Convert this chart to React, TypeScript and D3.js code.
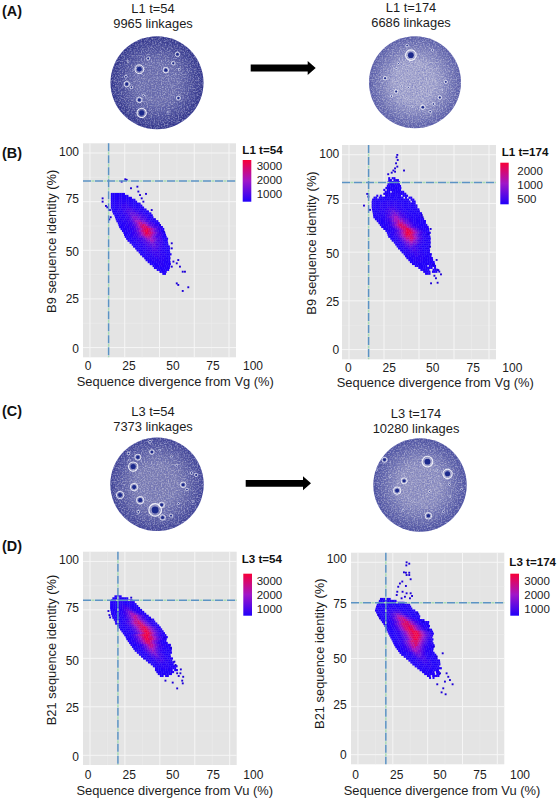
import * as d3 from 'd3';

type Row = [number, number, string];
type Plaque = [number, number, number];

// identity %, first divergence % of the row, one digit per bin (index into levelCounts, "." = empty bin)
const binStep = 1.25;
const levelCounts = [200, 300, 450, 650, 950, 1300, 1750, 2250, 2750, 3200];

const rowsB1: Row[] = [
  [79, 15, '00000000'], [78, 15, '0000000000.'], [77, 15, '000011100000'], [76, 15, '00001111100000'],
  [75, 15, '000111111110000'], [74, 15, '00011111211100000'], [73, 15, '000111222211100000'],
  [72, 15, '0001112222221110000'], [71, 15.5, '00011122233322111000'], [70, 16, '000111223333322111000'],
  [69, 16.5, '0001112233444332211000'], [68, 17.5, '0001112234444433221100'], [67, 18, '0001112234555443321100'],
  [66, 18.5, '00011122345555443321100'], [65, 19, '000111223456665543321100'], [64, 20, '000111223456776654332100'],
  [63, 20.5, '000111223456778765433210'], [62, 21, '0001112234567888765433210'], [61, 22, '0001112234567889876543210'],
  [60, 23, '000111234567899876543210'], [59, 24, '000112234567898876543210'], [58, 24.5, '000112234567888765433210'],
  [57, 25, '000112234456777654332100'], [56, 26, '000111223345666554332100'], [55, 27, '00011122334556654332100'],
  [54, 28.5, '0001112233445543322100'], [53, 30, '000111223344443322100'], [52, 31, '000111223334433221100'],
  [51, 32.5, '00011122233332211000'], [50, 33.5, '0001112223332211000'], [49, 35, '000111222222111000'],
  [48, 36, '000111122222111000'], [47, 37.5, '0001111222111000'], [46, 39, '000111112111000'],
  [45, 40, '00011111111000'], [44, 41.5, '0001111110000'], [43, 43, '000011110000'], [42, 45, '0000111000'],
  [41, 46, '000000000'], [40, 48, '0000000'], [39, 50, '0000'], [38, 52, '00'],
];
const outliersB1 = [
  [9.1, 76.7], [9.1, 75], [11.5, 72.8], [12.5, 72.1], [14.4, 70.7], [13.9, 65.9], [14.9, 67], [25.4, 86.5],
  [26.4, 86.2], [22.8, 85.3], [29.5, 81.9], [34.1, 82.7], [34.8, 80.2], [36, 78.4], [40.3, 79], [37.2, 76.7],
  [38.4, 75], [44.4, 70.7], [50.4, 63], [53.2, 59.6], [58.8, 53.6], [58.8, 51], [63.5, 45], [62.4, 43.3],
  [64.7, 41.6], [66.7, 39], [68.3, 39], [62.4, 33], [63.5, 32.2], [66.7, 29.1], [70.7, 31], [60, 44.2], [58.8, 41.6],
];

const rowsB2: Row[] = [
  [88, 28, '0.00'], [87, 28, '00.000'], [86, 27.5, '0000000'], [85, 27.5, '0000000'], [84, 27, '00000000'],
  [83, 26, '000000000'], [82, 24.5, '0.00000000.'], [81, 23, '..000.0000000'], [80, 22, '..0000000000000'],
  [79, 19.5, '0.0..000000000.000'], [78, 17.5, '00.00000000000000.0.00'], [77, 16.5, '000000000000000000000.00'],
  [76, 16.2, '0000000111111110000000.00'], [75, 16.2, '0000011111111111000000000'],
  [74, 16.2, '00000111111211111000000000'], [73, 16.2, '00001111122222111100000000'],
  [72, 16.4, '000011112233322111100000000'], [71, 16.7, '000011122334433221110000000'],
  [70, 17, '0000111223445443221110000000'], [69, 17.2, '0000111233455543322110000000'],
  [68, 17.4, '0000111234556654332111000000'], [67, 18.5, '0000112234566655433211000000'],
  [66, 19.8, '0000112345667665443211100000'], [65, 21, '000011234567776544321110000'],
  [64, 22, '000112345678877654321110000'], [63, 23, '000112345678887654322110000'],
  [62, 24.5, '00011234567889876543211000'], [61, 26, '0001123456789987654321100'],
  [60, 27, '0011234567899987654321100'], [59, 27.5, '001123456789987654321100'],
  [58, 28, '001123456788887654321100'], [57, 29.5, '00112345677887654321100'], [56, 30.5, '0011234566776543211000'],
  [55, 32, '001123455665543211000'], [54, 33, '00112344554432110000'], [53, 34, '0011233443321100000'],
  [52, 35, '001122333322110000'], [51, 36.5, '00111223322110000'], [50, 37.6, '0011122221110000'],
  [49, 39, '0011112221110000'], [48, 40, '001111211100000'], [47, 41, '000111111100000'], [46, 42.4, '00011111000000'],
  [45, 43.5, '00001110000000'], [44, 45, '0000000000000'], [43, 47, '0000000.0000'], [42, 49.5, '00000000.0'],
  [41, 51, '00000..000'], [40, 53, '0000.000'], [39, 54.3, '000'],
];
const outliersB2 = [
  [34.5, 99.9], [34, 98.7], [34.8, 97.3], [33.6, 95.6], [34.5, 93.9], [32.9, 93], [31.7, 91.9], [30.5, 90.8], [28, 90],
  [39.3, 91.9], [32.9, 91.3], [13, 79.9], [13.8, 78.5], [10.7, 73.9], [15, 71.7], [51.9, 69], [52.6, 67.9], [58.3, 61.9],
  [56.7, 59.3], [57.9, 52.8], [62.6, 46], [60.2, 43.4], [63.8, 40.8], [65.7, 38.6], [64.5, 40], [61, 37.9], [58.6, 34],
  [63.3, 34.3], [62.1, 36.6],
];

const rowsD1: Row[] = [
  [82, 17.5, '0000'], [81, 16, '000000000'], [80, 15.2, '000000000000'], [79, 14.4, '00000110000000'],
  [78, 14.4, '000001111000000'], [77, 14.4, '0000011222110000'], [76, 14.4, '00000112333211000'],
  [75, 14.6, '000001123443211000'], [74, 14.9, '0000011234554321100'], [73, 15.1, '00000112345665432100'],
  [72, 15.6, '000001123456676543210'], [71, 16, '0000011234567765432100'], [70, 17, '00000112345677654321100'],
  [69, 17.8, '00001123456778765432110'], [68, 18, '000011234567788765432110'], [67, 19.4, '000011234567788765432100'],
  [66, 20.5, '000011234567889876543210'], [65, 21.5, '000011234567889876543211'], [64, 22.5, '000011234567899876543210'],
  [63, 23.5, '000011234567899876543210'], [62, 24.5, '001123456789998765432110'], [61, 25.5, '001123456789988765432110'],
  [60, 26, '00112345678998876543210'], [59, 27, '0011234567888765432100'], [58, 28, '0011234567887654321000'],
  [57, 29, '00011234567776543211000'], [56, 30, '0001123456776543221000'], [55, 31, '0001123456665432110000'],
  [54, 32, '000112345565432211000'], [53, 33.5, '00011234555432110000'], [52, 35, '000112344543321000'],
  [51, 36.5, '00011233443221100'], [50, 38, '00011223332211000'], [49, 40, '000112223221100'],
  [48, 41.5, '000112222111000'], [47, 43.5, '0001111111000'], [46, 45, '00011111100000'], [45, 46.5, '000011110000'],
  [44, 46.5, '0000000000.00'], [43, 47.5, '0000000000'], [42, 48.5, '00000000'], [41, 50, '00.00'],
];
const outliersD1 = [
  [13.2, 74.4], [13.9, 72.3], [14.4, 71.1], [29.5, 81.3], [43.2, 70.1], [53.2, 60.7], [58, 55.5], [54, 38.5],
  [59.2, 37.5], [62.4, 34.5], [65, 44.3], [62.4, 42.3], [63.5, 40.9], [66.7, 40.5], [66, 38.5], [66.4, 37.1],
  [64.7, 42.3], [60.4, 48.3], [61.2, 46.6],
];

const rowsD2: Row[] = [
  [81, 15.8, '000000'], [80, 15, '0000000000'], [79, 14.5, '000000000000000'], [78, 13.5, '0000000000000000000'],
  [77, 13, '00000000111000000000'], [76, 12.6, '000000001111110000000'], [75, 12.2, '00000001122222110000000'],
  [74, 13, '000000112233332110000000'], [73, 13.8, '000001123445543211000000'], [72, 14.5, '000001123456665432100000'],
  [71, 15.5, '00001123456777654321000'], [70, 16.3, '0000112345677876543210000'], [69, 17.2, '000011234567788765432110000'],
  [68, 18.2, '00011234567888876543211000'], [67, 19, '00011234567888887654321000'], [66, 19.8, '0001123456788988765432110'],
  [65, 20.5, '00011234567889987654321100'], [64, 21.2, '00001123456788999876543210'], [63, 21.8, '00001123456788999876543210'],
  [62, 22.5, '0000112345678899987654321'], [61, 23.2, '000011234567899987654321'], [60, 24, '000011234567899876543210'],
  [59, 24.7, '00011234567888876543210'], [58, 25.3, '00011234567788765432110'], [57, 26, '00011234567787654321100'],
  [56, 26.8, '0001123456776654321100'], [55, 27.8, '000112345666654321000'], [54, 28.8, '00011234566554321100'],
  [53, 29.8, '00001123455543211000'], [52, 31, '00001123444432110000'], [51, 32.8, '0000112344332110000'],
  [50, 34.5, '000011223332110000'], [49, 36.2, '000011222221100000'], [48, 37.6, '00001112221100000'],
  [47, 39, '0000111111100000'], [46, 40.7, '00001111110000'], [45, 42.5, '00000111000000'], [44, 44.2, '00000000000.'],
  [43, 46, '0000000.00'], [42, 47.5, '000000.00'], [41, 49.5, '00.0000'], [40, 51, '0.0'],
];
const outliersD2 = [
  [34.9, 100], [36.8, 99.3], [34.7, 98.4], [33, 94.8], [34.4, 94.6], [36.8, 94.6], [34.9, 93.4], [36.8, 93.4], [37.8, 91.2],
  [31.8, 90], [30.1, 89], [28.9, 87.3], [34.4, 87.7], [28.2, 84.7], [27.8, 83], [32, 84.7], [34.9, 83.9], [37.8, 83.9],
  [38.8, 82.5], [33.7, 82.1], [31.3, 81.3], [37.3, 81.3], [42.6, 73.5], [46.9, 69.2], [50.5, 64.8], [60.8, 52.7],
  [54.5, 56.2], [56.5, 51], [58.9, 42.3], [63.6, 42.3], [64.8, 40.5], [66, 38.8], [67.9, 36.6], [62.4, 38], [60, 32.4],
  [62.9, 31.4], [61.2, 34.5], [56.9, 36.6], [14.6, 72.6], [15.8, 70.9],
];

const tickValues = [0, 25, 50, 75, 100];
const minorValues = [12.5, 37.5, 62.5, 87.5];

// plaques on the dishes: x, y, radius in % of the dish radius
const plaquesA1: Plaque[] = [[-38, -29, 9.5], [44, -61, 5], [19, -27, 6], [-65, 3, 6], [-55, 10, 3], [-67, -13, 3], [-38, 37, 6], [-33, 65, 10], [35, -42, 4], [46, 33, 4.5], [-19, -52, 3.5], [-62, -45, 2], [48, -29, 2], [24, 63, 2], [-29, 27, 2]];
const plaquesA2: Plaque[] = [[-9, -59, 11.5], [-17, -80, 3], [38, -70, 2.5], [-65, -9, 4], [67, -1, 3.5], [-41, 20, 4], [-51, 30, 2.5], [17, 54, 5], [54, 33, 4], [33, 64, 3], [-7, 53, 2], [40, 47, 3], [-36, -41, 2], [-41, -30, 2], [58, 17, 1.5], [-14, 11, 2], [-29, 8, 2]];
const plaquesC1: Plaque[] = [[-51, -38, 10], [-41, -58, 6.5], [-11, -69, 5], [-15, -91, 3], [-49, 6, 8], [-36, 34, 8], [-4, 55, 13.5], [10, 44, 6], [12, 71, 6], [-79, 23, 8], [56, 1, 6], [64, 11, 3], [84, -20, 3.5], [74, -24, 3], [30, 67, 3.5], [-40, 59, 3], [-61, -66, 3], [-59, -52, 2], [46, 41, 2], [77, 36, 2], [6, -73, 2], [31, -59, 2], [42, -41, 2]];
const plaquesC2: Plaque[] = [[16, -50, 11.5], [59, -24, 10], [-49, 12, 8], [-34, -9, 6.5], [-76, -54, 5.5], [18, 66, 7], [89, 9, 2], [20, 14, 2], [-64, -18, 2], [63, -1, 2], [36, -32, 2], [-36, 54, 2], [50, 57, 2], [64, 25, 2], [-93, -32, 2]];

const FONT = '"Liberation Sans", Arial, sans-serif';
const INK = '#1c1c1c';

const panels = [
  {
    id: 'b1', rows: rowsB1, outliers: outliersB1, box: [83, 143.3, 236, 357.3], refX: 13.4, refY: 85.6,
    xTitle: 'Sequence divergence from Vg (%)', yTitle: 'B9 sequence identity (%)',
    xLabels: [88, 129, 173, 213, 253], yLabels: [348.3, 299, 251.7, 198.3, 151.7], yLabelRight: 79, xLabelY: 365.7,
    xTitlePos: [175.3, 381.7], yTitlePos: [51.7, 241.3],
    legend: { title: 'L1 t=54', titlePos: [242.3, 150], bar: [242.7, 251.3, 160, 201.7], labelX: 256.7, ticks: [3000, 2000, 1000], tickY: [166, 180, 194], log: false },
  },
  {
    id: 'b2', rows: rowsB2, outliers: outliersB2, box: [342, 145, 496, 359.3], refX: 14, refY: 85.7,
    xTitle: 'Sequence divergence from Vg (%)', yTitle: 'B9 sequence identity (%)',
    xLabels: [348.3, 389.3, 432.7, 473.3, 512.3], yLabels: [350, 301.7, 253.3, 200, 154], yLabelRight: 339.3, xLabelY: 367.3,
    xTitlePos: [435.3, 382.7], yTitlePos: [311, 243],
    legend: { title: 'L1 t=174', titlePos: [501.7, 151.7], bar: [500.3, 508.7, 162.7, 204.3], labelX: 517.3, ticks: [2000, 1000, 500], tickY: [170.7, 184.7, 198.7], log: true },
  },
  {
    id: 'd1', rows: rowsD1, outliers: outliersD1, box: [83, 551.7, 236.7, 765], refX: 20, refY: 80,
    xTitle: 'Sequence divergence from Vu (%)', yTitle: 'B21 sequence identity (%)',
    xLabels: [88, 129.3, 172.7, 213.3, 253.3], yLabels: [756.7, 707.3, 660.7, 607.3, 560], yLabelRight: 79, xLabelY: 775,
    xTitlePos: [174.7, 790], yTitlePos: [51.7, 650],
    legend: { title: 'L3 t=54', titlePos: [241.7, 559], bar: [243.3, 252, 573.7, 615.7], labelX: 256.7, ticks: [3000, 2000, 1000], tickY: [580.7, 594.7, 608.7], log: false },
  },
  {
    id: 'd2', rows: rowsD2, outliers: outliersD2, box: [351, 552.7, 504.3, 764.3], refX: 20, refY: 79,
    xTitle: 'Sequence divergence from Vu (%)', yTitle: 'B21 sequence identity (%)',
    xLabels: [355.7, 396.7, 440, 480, 520], yLabels: [755, 705, 658.3, 604, 558.3], yLabelRight: 346.7, xLabelY: 775,
    xTitlePos: [442, 790], yTitlePos: [319, 653.7],
    legend: { title: 'L3 t=174', titlePos: [509.3, 561.7], bar: [510.3, 519, 573.7, 615.7], labelX: 524.3, ticks: [3000, 2000, 1000], tickY: [581, 595, 609], log: false },
  },
];

const dishes = [
  { id: 'a1', plaques: plaquesA1, cx: 157, cy: 82.7, r: 46.5, inner: '#6b6dab', outer: '#2f3288', lines: ['L1 t=54', '9965 linkages'], textX: 153, textY: [8.7, 23.3] },
  { id: 'a2', plaques: plaquesA2, cx: 415, cy: 82.3, r: 46, inner: '#a4a5cc', outer: '#5a5da6', lines: ['L1 t=174', '6686 linkages'], textX: 411, textY: [7.3, 22.3] },
  { id: 'c1', plaques: plaquesC1, cx: 157, cy: 484.3, r: 46.7, inner: '#7c7db2', outer: '#3e4194', lines: ['L3 t=54', '7373 linkages'], textX: 153, textY: [411.7, 426.7] },
  { id: 'c2', plaques: plaquesC2, cx: 420, cy: 485, r: 46.7, inner: '#9091bf', outer: '#4b4f9e', lines: ['L3 t=174', '10280 linkages'], textX: 416, textY: [413.3, 428.3] },
];

const arrows = [
  { x0: 250.7, x1: 315.7, y: 68 },
  { x0: 245.7, x1: 311, y: 483.3 },
];

const sectionLetters = [
  { label: '(A)', y: 11 },
  { label: '(B)', y: 153 },
  { label: '(C)', y: 411 },
  { label: '(D)', y: 546 },
];

const countColor = d3
  .scaleLinear<string>()
  .domain([200, 1700, 3400])
  .range(['#2200fa', '#a016c8', '#f80038'])
  .interpolate(d3.interpolateRgb);

function Dish({ d }: { d: (typeof dishes)[number] }) {
  const sc = d3.scaleLinear().domain([-100, 100]).range([-d.r, d.r]);
  return (
    <g>
      {d.lines.map((t, i) => (
        <text key={t} x={d.textX} y={d.textY[i]} dy="0.35em" textAnchor="middle" fontSize={12.9} fill={INK}>{t}</text>
      ))}
      <g transform={`translate(${d.cx},${d.cy})`} filter="url(#softDish)">
        <radialGradient id={`grad-${d.id}`}>
          <stop offset="0%" stopColor={d.inner} />
          <stop offset="45%" stopColor={d.inner} />
          <stop offset="100%" stopColor={d.outer} />
        </radialGradient>
        <clipPath id={`clip-${d.id}`}><circle r={d.r} /></clipPath>
        <circle r={d.r} fill={`url(#grad-${d.id})`} />
        <g clipPath={`url(#clip-${d.id})`}>
          <rect x={-d.r} y={-d.r} width={d.r * 2} height={d.r * 2} filter="url(#grainDark)" opacity={0.45} />
          <rect x={-d.r} y={-d.r} width={d.r * 2} height={d.r * 2} filter="url(#grainLight)" opacity={0.4} />
        </g>
        {d.plaques.map(([x, y, r], i) => {
          const big = sc(r) - sc(0);
          return (
            <g key={i} transform={`translate(${sc(x)},${sc(y)})`}>
              <circle r={big} fill="#ffffff" fillOpacity={0.18} stroke="#fbfbff" strokeOpacity={0.92} strokeWidth={Math.min(1.15, 0.45 + big * 0.12)} />
              <circle r={big * 0.55} fill="#1c2a8c" />
            </g>
          );
        })}
      </g>
    </g>
  );
}

function Panel({ p }: { p: (typeof panels)[number] }) {
  const [left, top, right, bottom] = p.box;
  // ggplot style 5% expansion on both sides of 0-100
  const x = d3.scaleLinear().domain([-5, 105]).range([left, right]);
  const y = d3.scaleLinear().domain([-5, 105]).range([bottom, top]);
  const cellW = x(binStep) - x(0);
  const cellH = y(0) - y(1);
  const { bar } = p.legend;
  const legendY = p.legend.log
    ? d3.scaleLog().domain([p.legend.ticks[2], p.legend.ticks[0]]).range([p.legend.tickY[2], p.legend.tickY[0]])
    : d3.scaleLinear().domain([p.legend.ticks[2], p.legend.ticks[0]]).range([p.legend.tickY[2], p.legend.tickY[0]]);
  return (
    <g>
      <rect x={left} y={top} width={right - left} height={bottom - top} fill="#e4e4e4" />
      {minorValues.map((v) => (
        <g key={v} stroke="#ececec" strokeWidth={0.6}>
          <line x1={x(v)} x2={x(v)} y1={top} y2={bottom} />
          <line x1={left} x2={right} y1={y(v)} y2={y(v)} />
        </g>
      ))}
      {tickValues.map((v) => (
        <g key={v} stroke="#f6f6f6" strokeWidth={1}>
          <line x1={x(v)} x2={x(v)} y1={top} y2={bottom} />
          <line x1={left} x2={right} y1={y(v)} y2={y(v)} />
        </g>
      ))}
      <g filter="url(#soft)">
        {p.rows.map(([ry, rx, levels]) =>
          levels.split('').map((c, i) =>
            c === '.' ? null : (
              <rect
                key={`${ry}-${i}`}
                x={x(rx + i * binStep)}
                y={y(ry + 0.5)}
                width={cellW + 0.25}
                height={cellH + 0.25}
                fill={countColor(levelCounts[+c])}
              />
            ),
          ),
        )}
        {p.outliers.map(([ox, oy], i) => (
          <rect key={i} x={x(ox) - 0.95} y={y(oy) - 0.95} width={1.9} height={1.9} fill="#1e00d8" />
        ))}
      </g>
      <g fill="none" strokeWidth={1.5}>
        <line x1={x(p.refX)} x2={x(p.refX)} y1={top} y2={bottom} stroke="#a8dcb4" strokeDasharray="3 9" strokeDashoffset={-8.5} />
        <line x1={x(p.refX)} x2={x(p.refX)} y1={top} y2={bottom} stroke="#5b93c4" strokeDasharray="8 4" />
        <line x1={left} x2={right} y1={y(p.refY)} y2={y(p.refY)} stroke="#a8dcb4" strokeDasharray="3 9" strokeDashoffset={-8.5} />
        <line x1={left} x2={right} y1={y(p.refY)} y2={y(p.refY)} stroke="#5b93c4" strokeDasharray="8 4" />
      </g>
      {tickValues.map((v, i) => (
        <text key={v} x={p.xLabels[i]} y={p.xLabelY} dy="0.35em" textAnchor="middle" fontSize={12} fill={INK}>{v}</text>
      ))}
      {tickValues.map((v, i) => (
        <text key={v} x={p.yLabelRight} y={p.yLabels[i]} dy="0.35em" textAnchor="end" fontSize={12} fill={INK}>{v}</text>
      ))}
      <text x={p.xTitlePos[0]} y={p.xTitlePos[1]} dy="0.35em" textAnchor="middle" fontSize={12.9} fill={INK}>{p.xTitle}</text>
      <text
        transform={`translate(${p.yTitlePos[0]},${p.yTitlePos[1]}) rotate(-90)`}
        dy="0.35em"
        textAnchor="middle"
        fontSize={12.9}
        fill={INK}
      >
        {p.yTitle}
      </text>
      <linearGradient id={`legend-${p.id}`} x1="0" x2="0" y1="1" y2="0">
        <stop offset="0%" stopColor={countColor(200)} />
        <stop offset="50%" stopColor={countColor(1700)} />
        <stop offset="100%" stopColor={countColor(3400)} />
      </linearGradient>
      <rect x={bar[0]} y={bar[2]} width={bar[1] - bar[0]} height={bar[3] - bar[2]} fill={`url(#legend-${p.id})`} />
      <text x={p.legend.titlePos[0]} y={p.legend.titlePos[1]} dy="0.35em" fontSize={11.6} fontWeight="bold" fill="#111">{p.legend.title}</text>
      {p.legend.ticks.map((t) => (
        <text key={t} x={p.legend.labelX} y={legendY(t)} dy="0.35em" fontSize={11.5} fill={INK}>{t}</text>
      ))}
    </g>
  );
}

export default function App() {
  return (
    <svg width={559} height={800} style={{ position: 'absolute', left: 0, top: 0, fontFamily: FONT }}>
      <defs>
        <filter id="soft" x="-5%" y="-5%" width="110%" height="110%">
          <feGaussianBlur stdDeviation="0.4" />
        </filter>
        <filter id="softDish" x="-5%" y="-5%" width="110%" height="110%">
          <feGaussianBlur stdDeviation="0.45" />
        </filter>
        <filter id="grainLight" x="0" y="0" width="100%" height="100%">
          <feTurbulence type="fractalNoise" baseFrequency="0.7" numOctaves={2} seed={4} />
          <feColorMatrix values="0 0 0 0 1  0 0 0 0 1  0 0 0 0 1  2.6 0 0 0 -1.1" />
        </filter>
        <filter id="grainDark" x="0" y="0" width="100%" height="100%">
          <feTurbulence type="fractalNoise" baseFrequency="0.65" numOctaves={2} seed={11} />
          <feColorMatrix values="0 0 0 0 0.1  0 0 0 0 0.12  0 0 0 0 0.5  0 2.6 0 0 -1.1" />
        </filter>
      </defs>
      <rect width={559} height={800} fill="#fff" />
      {sectionLetters.map((s) => (
        <text key={s.label} x={2} y={s.y} dy="0.35em" fontSize={14.4} fontWeight="bold" fill="#111">{s.label}</text>
      ))}
      {dishes.map((d) => <Dish key={d.id} d={d} />)}
      {arrows.map((a) => (
        <path
          key={a.y}
          d={d3.line()([
            [a.x0, a.y - 3.4], [a.x1 - 8, a.y - 3.4], [a.x1 - 8, a.y - 7], [a.x1, a.y],
            [a.x1 - 8, a.y + 7], [a.x1 - 8, a.y + 3.4], [a.x0, a.y + 3.4],
          ]) + 'Z'}
          fill="#000"
        />
      ))}
      {panels.map((p) => <Panel key={p.id} p={p} />)}
    </svg>
  );
}
